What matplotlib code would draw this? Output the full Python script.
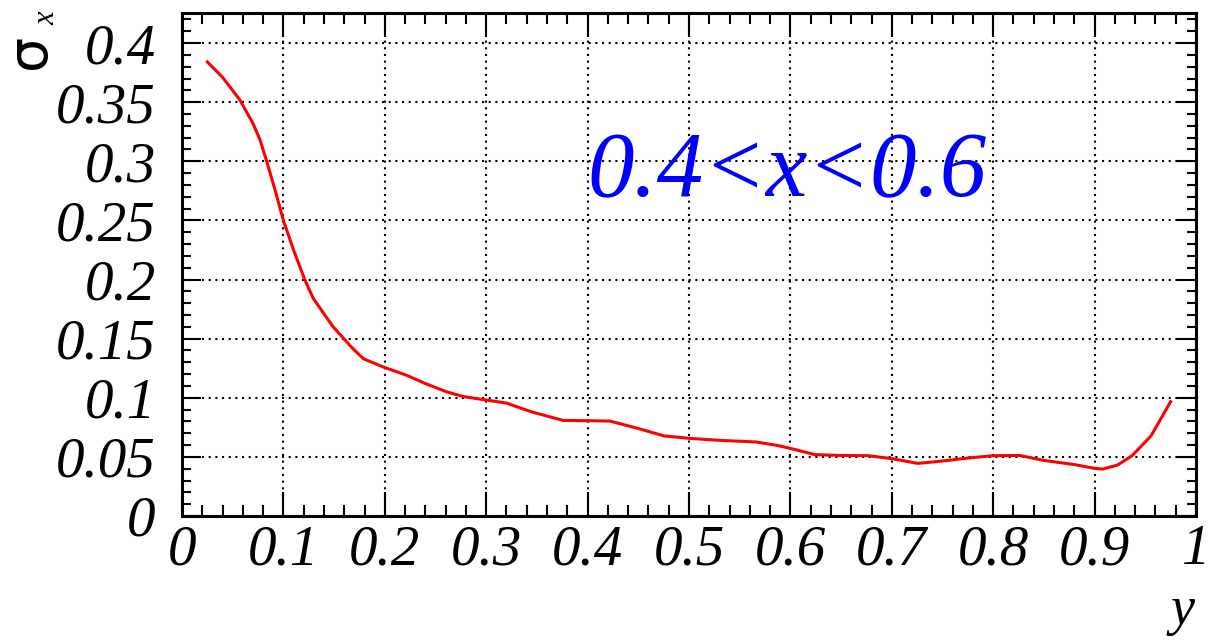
import matplotlib
matplotlib.use("Agg")
import matplotlib.pyplot as plt
from matplotlib.ticker import MultipleLocator, FixedFormatter, FixedLocator

# Data
y_vals = [0.025, 0.040, 0.057, 0.070, 0.077, 0.0835, 0.092, 0.100, 0.110, 0.121,
          0.1295, 0.140, 0.149, 0.1575, 0.168, 0.179, 0.1985, 0.2216, 0.240, 0.261,
          0.2775, 0.3005, 0.320, 0.345, 0.376, 0.400, 0.422, 0.450, 0.4754, 0.500,
          0.530, 0.566, 0.585, 0.600, 0.624, 0.650, 0.677, 0.700, 0.7256, 0.750,
          0.775, 0.800, 0.826, 0.850, 0.880, 0.900, 0.908, 0.9227, 0.937, 0.9556, 0.975]
sigma_vals = [0.384, 0.371, 0.352, 0.332, 0.318, 0.300, 0.275, 0.250, 0.225, 0.200,
              0.184, 0.171, 0.160, 0.152, 0.142, 0.133, 0.126, 0.119, 0.112, 0.105,
              0.101, 0.098, 0.0955, 0.088, 0.0808, 0.0806, 0.0803, 0.074, 0.0677, 0.0657,
              0.0640, 0.0626, 0.060, 0.0572, 0.0519, 0.0512, 0.0510, 0.0485, 0.0445, 0.0465,
              0.049, 0.0510, 0.0512, 0.047, 0.0435, 0.0403, 0.0397, 0.0431, 0.051, 0.0677, 0.0967]
x_ticks = [0, 0.1, 0.2, 0.3, 0.4, 0.5, 0.6, 0.7, 0.8, 0.9, 1.0]
x_tick_labels = ["0", "0.1", "0.2", "0.3", "0.4", "0.5", "0.6", "0.7", "0.8", "0.9", "1"]
yax_ticks = [0, 0.05, 0.1, 0.15, 0.2, 0.25, 0.3, 0.35, 0.4]
yax_tick_labels = ["0", "0.05", "0.1", "0.15", "0.2", "0.25", "0.3", "0.35", "0.4"]
annotation = "0.4<x<0.6"

W, H = 1216, 641
fig = plt.figure(figsize=(W / 100, H / 100), dpi=100)
ax = fig.add_axes([182 / W, 1 - 516 / H, (1196 - 182) / W, (516 - 13) / H])

ax.plot(y_vals, sigma_vals, color="red", lw=2.2, zorder=3,
        solid_joinstyle="round")

ax.set_xlim(0, 1)
ax.set_ylim(0, 0.4254)

ax.xaxis.set_major_locator(FixedLocator(x_ticks))
ax.xaxis.set_major_formatter(FixedFormatter(x_tick_labels))
ax.xaxis.set_minor_locator(MultipleLocator(0.02))
ax.yaxis.set_major_locator(FixedLocator(yax_ticks))
ax.yaxis.set_major_formatter(FixedFormatter(yax_tick_labels))
ax.yaxis.set_minor_locator(MultipleLocator(0.01))

ax.grid(True, which="major", color="black", linestyle=(0, (1, 2.2)), lw=1.5)

ax.tick_params(axis="x", which="major", direction="in", length=17.5, width=1.5,
               top=True, bottom=True, pad=6)
ax.tick_params(axis="x", which="minor", direction="in", length=8, width=1.5,
               top=True, bottom=True)
ax.tick_params(axis="y", which="major", direction="in", length=14, width=1.5,
               left=True, right=True, pad=19)
ax.tick_params(axis="y", which="minor", direction="in", length=6.5, width=1.5,
               left=True, right=True)
for lab in ax.get_xticklabels() + ax.get_yticklabels():
    lab.set_fontfamily("Liberation Serif")
    lab.set_fontstyle("italic")
    lab.set_fontsize(41)

for sp in ax.spines.values():
    sp.set_linewidth(2.2)

ax.text(0.4, 0.27, annotation, color="blue", fontsize=67,
        family="Liberation Serif", style="italic", ha="left", va="baseline",
        zorder=4)

# axis titles
fig.text(1183 / W, 1 - 624 / H, "y", fontsize=39, family="Liberation Serif",
         style="italic", ha="center", va="baseline")
fig.text(30 / W, 1 - 51 / H, "σ", fontsize=40, family="DejaVu Sans",
         rotation=90, ha="center", va="center")
fig.text(47 / W, 1 - 18 / H, "x", fontsize=22, family="Liberation Serif",
         style="italic", rotation=90, ha="center", va="center")

fig.savefig("out.png", dpi=100)
